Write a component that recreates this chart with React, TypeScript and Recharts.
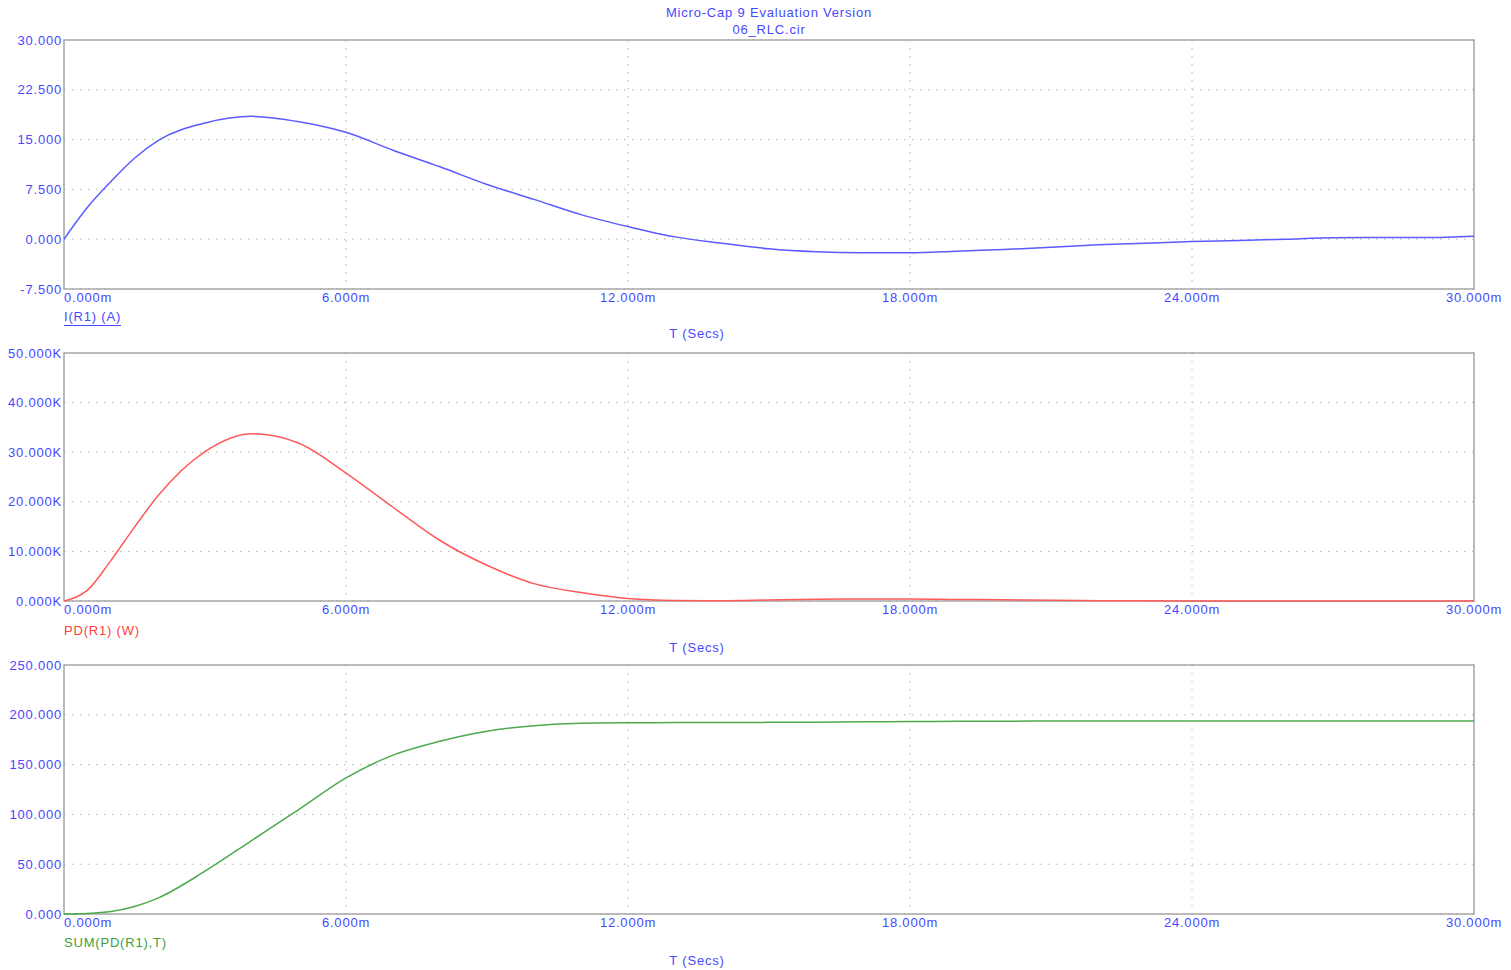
import {
    LineChart,
    Line,
    XAxis,
    YAxis,
    CartesianGrid,
    ReferenceArea
} from "recharts";

// simulation time, ms
const timeMs = [
    0, 0.5, 1, 1.5, 2, 3, 4, 5, 6, 7, 8, 9, 10, 11, 12, 13, 14, 15,
    16, 17, 18, 19, 20, 21, 22, 23, 24, 25, 26, 27, 28, 29, 30
];

// I(R1) in A
const currentR1 = [
    0, 4.8, 8.7, 12.2, 14.85, 17.5, 18.5, 17.7, 16.1, 13.4, 10.9, 8.25, 6.0, 3.7, 1.9, 0.35, -0.6, -1.45,
    -1.9, -2.05, -2.05, -1.8, -1.55, -1.2, -0.85, -0.6, -0.35, -0.2, 0, 0.2, 0.25, 0.25, 0.45
];

// PD(R1) in W
const powerR1 = [
    0, 2200, 8200, 14900, 21200, 30100, 33700, 31800, 25800, 18900, 12200, 7200, 3500, 1700, 500, 100, 50, 200,
    360, 420, 420, 320, 240, 140, 70, 40, 10, 0, 0, 0, 0, 0, 20
];

// SUM(PD(R1),T) in J
const energyR1 = [
    0, 0.5, 2.4, 7.5, 16, 43, 74, 105, 136.6, 159.5, 173.5, 183.5, 189, 191.5, 192, 192.2, 192.3, 192.4,
    192.6, 192.9, 193.2, 193.4, 193.6, 193.7, 193.7, 193.8, 193.8, 193.8, 193.8, 193.8, 193.8, 193.8, 193.8
];

const timeTicks = [0, 6, 12, 18, 24, 30];
const currentTicks = [-7.5, 0, 7.5, 15, 22.5, 30];
const powerTicks = [0, 10000, 20000, 30000, 40000, 50000];
const energyTicks = [0, 50, 100, 150, 200, 250];

const rows = timeMs.map((t, i) => ({
    t,
    i: currentR1[i],
    pd: powerR1[i],
    sum: energyR1[i]
}));

const FONT = "'Liberation Sans', Arial, sans-serif";
const TEXT_BLUE = "#4848ff";

const textStyle = {
    position: "absolute" as const,
    fontFamily: FONT,
    fontSize: 13,
    letterSpacing: "0.8px",
    lineHeight: "16px",
    whiteSpace: "nowrap" as const
};

function TimeTick(props: any) {
    const { x, y, payload, index } = props;
    return (
        <text
            x={x}
            y={y}
            dy={4.5}
            textAnchor={index === 0 ? "start" : "middle"}
            fill={TEXT_BLUE}
            fontSize={13}
            fontFamily={FONT}
            letterSpacing="0.8px"
        >
            {payload.value.toFixed(3) + "m"}
        </text>
    );
}

function Panel({
    top,
    plotH,
    dataKey,
    color,
    ticks,
    fmt
}: {
    top: number;
    plotH: number;
    dataKey: string;
    color: string;
    ticks: number[];
    fmt: (v: number) => string;
}) {
    const lo = ticks[0];
    const hi = ticks[ticks.length - 1];

    return (
        <div style={{ position: "absolute", left: 0, top: top - 10 }}>
            <LineChart
                width={1511}
                height={plotH + 30}
                data={rows}
                margin={{ top: 10, right: 37, bottom: 0, left: 4 }}
            >
                <CartesianGrid stroke="#b4b4b4" strokeDasharray="1.5 6.5" />

                <XAxis
                    type="number"
                    dataKey="t"
                    domain={[0, 30]}
                    ticks={timeTicks}
                    interval={0}
                    height={20}
                    axisLine={false}
                    tickLine={false}
                    tick={(p: any) => <TimeTick {...p} />}
                />

                <YAxis
                    type="number"
                    domain={[lo, hi]}
                    ticks={ticks}
                    interval={0}
                    width={60}
                    axisLine={false}
                    tickLine={false}
                    tickSize={0}
                    tickMargin={2}
                    tick={(p: any) => (
                        <text
                            x={p.x}
                            y={p.y}
                            dy={4.5}
                            textAnchor="end"
                            fill={TEXT_BLUE}
                            fontSize={13}
                            fontFamily={FONT}
                            letterSpacing="0.8px"
                        >
                            {fmt(p.payload.value)}
                        </text>
                    )}
                />

                <ReferenceArea
                    x1={0}
                    x2={30}
                    y1={lo}
                    y2={hi}
                    fill="none"
                    stroke="#a6a6a6"
                    strokeWidth={1.5}
                />

                <Line
                    dataKey={dataKey}
                    type="monotone"
                    stroke={color}
                    strokeWidth={1.5}
                    dot={false}
                    isAnimationActive={false}
                />
            </LineChart>
        </div>
    );
}

function Caption({
    x,
    y,
    text,
    color,
    center,
    underline
}: {
    x: number;
    y: number;
    text: string;
    color: string;
    center?: boolean;
    underline?: boolean;
}) {
    return (
        <div
            style={{
                ...textStyle,
                left: x,
                top: y - 8,
                color,
                transform: center ? "translateX(-50%)" : undefined,
                textDecoration: underline ? "underline" : undefined,
                textUnderlineOffset: "4px"
            }}
        >
            {text}
        </div>
    );
}

export default function App() {
    return (
        <div
            style={{
                position: "absolute",
                left: 0,
                top: 0,
                width: 1511,
                height: 970,
                background: "#ffffff",
                overflow: "hidden"
            }}
        >
            <Caption x={769} y={13} text="Micro-Cap 9 Evaluation Version" color={TEXT_BLUE} center />
            <Caption x={769} y={30} text="06_RLC.cir" color={TEXT_BLUE} center />

            <Panel
                top={40}
                plotH={249}
                dataKey="i"
                color="#5a5aff"
                ticks={currentTicks}
                fmt={(v) => v.toFixed(3)}
            />
            <Caption x={64} y={317} text="I(R1) (A)" color={TEXT_BLUE} underline />
            <Caption x={697} y={334} text="T (Secs)" color={TEXT_BLUE} center />

            <Panel
                top={353}
                plotH={248}
                dataKey="pd"
                color="#ff5a5a"
                ticks={powerTicks}
                fmt={(v) => (v / 1000).toFixed(3) + "K"}
            />
            <Caption x={64} y={631} text="PD(R1) (W)" color="#ff3c3c" />
            <Caption x={697} y={648} text="T (Secs)" color={TEXT_BLUE} center />

            <Panel
                top={665}
                plotH={249}
                dataKey="sum"
                color="#4caa4c"
                ticks={energyTicks}
                fmt={(v) => v.toFixed(3)}
            />
            <Caption x={64} y={943} text="SUM(PD(R1),T)" color="#3c9e3c" />
            <Caption x={697} y={961} text="T (Secs)" color={TEXT_BLUE} center />
        </div>
    );
}
